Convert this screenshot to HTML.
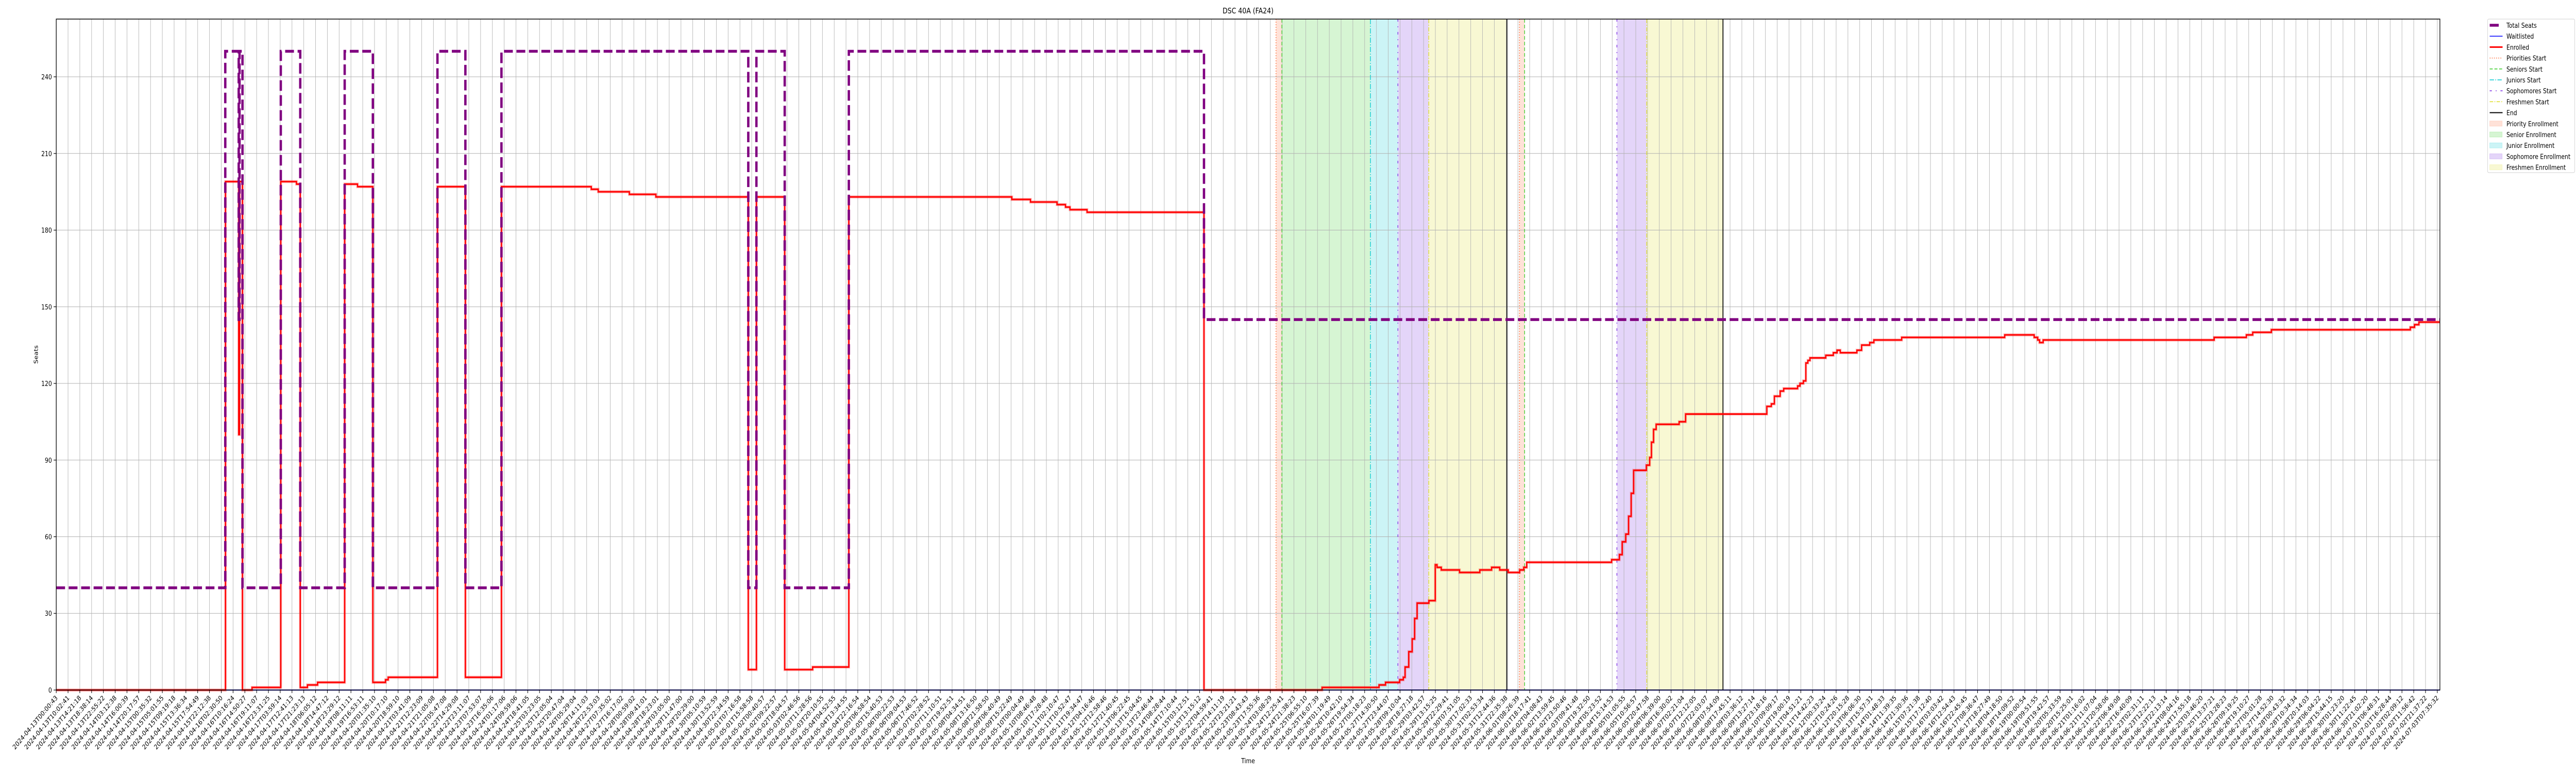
<!DOCTYPE html>
<html><head><meta charset="utf-8"><title>DSC 40A (FA24)</title>
<style>
html,body{margin:0;padding:0;background:#fff;width:100%;height:100%;overflow:hidden;}
svg{display:block;position:absolute;left:0;top:0;width:100vw;height:100vh;font-family:"DejaVu Sans","Liberation Sans",sans-serif;}
</style></head>
<body>
<svg id="chart" viewBox="0 0 6000 1500" preserveAspectRatio="none" xmlns="http://www.w3.org/2000/svg" overflow="hidden">
  <rect x="0" y="0" width="6000" height="1500" fill="#fff"/>
  <text x="2907" y="26" font-size="15" text-anchor="middle" fill="#000">DSC 40A (FA24)</text>
  <g id="spans"></g>
  <g id="grid"></g>
  <g id="vlines"></g>
  <g id="series"></g>
  <g id="axes"></g>
  <text x="2907" y="1481" font-size="13" text-anchor="middle" fill="#000">Time</text>
  <text x="0" y="0" font-size="13" text-anchor="middle" fill="#000" transform="translate(88,688) rotate(-90)">Seats</text>
  <g id="legend"></g>
</svg>
<script>
// ---- data ----
const seatsX = [0,14.34,15.48,15.55,15.80,19.05,20.70,24.47,26.86,32.34,34.71,37.77,58.71,59.40,61.80,67.24,97.37];
const seatsY = [40,250,145,250,40,250,40,250,40,250,40,250,40,250,40,250,145];
const enrolledX = [0,14.36,15.48,15.55,15.80,16.61,19.05,20.38,20.70,21.31,22.17,24.47,25.56,26.86,27.93,28.16,32.34,34.71,37.77,45.39,45.98,48.62,50.87,58.71,59.40,61.80,64.17,67.24,81.07,82.65,84.90,85.62,86.00,87.45,97.37,107.39,112.22,112.77,113.97,114.28,114.43,114.74,115.03,115.24,115.45,116.45,116.99,117.14,117.50,119.05,120.77,121.77,122.46,123.18,124.15,124.50,124.75,131.95,132.61,132.85,133.15,133.39,133.61,133.82,134.90,135.18,135.33,135.51,135.73,137.68,138.23,145.12,145.50,145.76,146.25,146.55,147.73,147.93,148.22,148.43,148.60,148.78,150.12,150.76,151.08,151.35,152.76,153.16,153.85,154.20,156.56,165.30,167.80,168.10,168.26,168.56,183.07,185.80,186.34,187.92,199.71,200.07,200.44];
const enrolledY = [0,199,100,199,0,1,199,198,1,2,3,198,197,3,4,5,197,5,197,196,195,194,193,8,193,8,9,193,192,191,190,189,188,187,0,1,2,3,4,5,9,15,20,28,34,35,49,48,47,46,47,48,47,46,47,48,50,51,53,58,61,68,77,86,88,91,97,102,104,105,108,111,112,115,117,118,119,120,121,128,129,130,131,132,133,132,133,135,136,137,138,139,138,137,136,137,138,139,140,141,142,143,144];
const waitlistX = [0];
const waitlistY = [0];
const spanStart = [103.48,103.98,111.49,113.82,116.44,124.13,132.40,134.93];
const spanEnd   = [103.98,111.49,113.82,116.44,123.07,124.57,134.93,141.40];
const spanKind  = ["priority","senior","junior","sophomore","freshmen","priority","sophomore","freshmen"];
const lineAt    = [103.48,103.98,111.49,113.82,116.44,123.07,124.13,124.57,132.40,134.93,141.40];
const lineKind  = ["priority","senior","junior","sophomore","freshmen","end","priority","senior","sophomore","freshmen","end"];
const yTicks = [0,30,60,90,120,150,180,210,240];
const tickAnchorIdx = [0,1,2,3,4,5,6,7,8,9,10,11,12,13,14,15,16,17,18,19,95,96,97,98,99,100,101,102,103,104,105,106,107,108,109,110,111,112,113,114,115,116,117,118,119,120,190,191,192,193,194,195,196,197,198,199,200,201,202];
const tickAnchorTime = ["2024-04-13T00:00:43","2024-04-13T10:02:41","2024-04-13T14:21:18","2024-04-13T18:38:14","2024-04-13T22:55:22","2024-04-14T03:12:38","2024-04-14T16:00:39","2024-04-14T20:17:57","2024-04-15T00:35:32","2024-04-15T05:01:55","2024-04-15T09:19:18","2024-04-15T13:36:34","2024-04-15T17:54:49","2024-04-15T22:12:38","2024-04-16T02:30:50","2024-04-16T10:16:24","2024-04-16T14:50:27","2024-04-16T19:11:07","2024-04-16T23:31:25","2024-04-17T03:59:14","2024-05-14T17:10:44","2024-05-15T03:12:51","2024-05-15T13:15:12","2024-05-22T04:59:41","2024-05-22T14:11:19","2024-05-22T23:21:21","2024-05-23T08:43:43","2024-05-23T17:55:36","2024-05-24T03:08:29","2024-05-24T12:25:41","2024-05-24T21:38:23","2024-05-25T06:55:10","2024-05-25T16:07:39","2024-05-26T01:19:49","2024-05-26T10:42:10","2024-05-26T19:54:34","2024-05-27T05:18:23","2024-05-27T14:30:50","2024-05-27T23:44:07","2024-05-28T09:10:04","2024-05-28T18:27:18","2024-05-29T03:42:57","2024-05-29T13:15:25","2024-05-29T22:29:41","2024-05-30T07:51:05","2024-05-30T17:02:33","2024-06-28T10:34:34","2024-06-28T20:14:03","2024-06-29T06:04:22","2024-06-29T15:44:15","2024-06-30T01:23:20","2024-06-30T11:22:45","2024-06-30T21:02:20","2024-07-01T06:48:31","2024-07-01T16:28:44","2024-07-02T02:09:12","2024-07-02T11:56:42","2024-07-02T21:37:22","2024-07-03T07:35:32"];
const tickCount = 203;

// ---- geometry ----
const L = 131, R = 5683, T = 37, B = 1339;
const X_MAX = 202.22, Y_MAX = 262.6;
const xs = k => L + k * (R - L) / X_MAX;
const ys = v => B - v * (B - T) / Y_MAX;
const NS = "http://www.w3.org/2000/svg";
function mk(tag, attrs, parent) {
  const e = document.createElementNS(NS, tag);
  for (const k in attrs) e.setAttribute(k, attrs[k]);
  parent.appendChild(e);
  return e;
}
const colors = {priority:"#ff6f3c", senior:"#33cc22", junior:"#00c8d0", sophomore:"#7a2be2", freshmen:"#dddd22", end:"#000000"};
const dashes = {priority:"2 3", senior:"7 4", junior:"10 3 2 3", sophomore:"5 9 2 9", freshmen:"8 3 2 3", end:""};

// spans
const gS = document.getElementById("spans");
spanStart.forEach((s, i) => {
  const r = mk("rect", {x: xs(s), y: T, width: xs(spanEnd[i]) - xs(s), height: B - T, fill: colors[spanKind[i]], "fill-opacity": 0.2}, gS);
  
  
});

// grid
const gG = document.getElementById("grid");
for (let k = 0; k < tickCount; k++) {
  const l = mk("line", {x1: xs(k), x2: xs(k), y1: T, y2: B, stroke: "#b0b0b0", "stroke-width": 1}, gG);
  
  
}
yTicks.forEach(v => {
  const l = mk("line", {x1: L, x2: R, y1: ys(v), y2: ys(v), stroke: "#b0b0b0", "stroke-width": 1}, gG);
  
  
});

// event lines
const gV = document.getElementById("vlines");
lineAt.forEach((k, i) => {
  const kind = lineKind[i];
  const a = {x1: xs(k), x2: xs(k), y1: T, y2: B, stroke: colors[kind], "stroke-width": kind === "end" ? 2 : 1.5};
  if (dashes[kind]) a["stroke-dasharray"] = dashes[kind];
  const l = mk("line", a, gV);
  
  
});

// series
function stepPath(X, Y) {
  let d = "M" + xs(X[0]) + " " + ys(Y[0]);
  for (let i = 1; i < X.length; i++) d += " H" + xs(X[i]) + " V" + ys(Y[i]);
  d += " H" + xs(X_MAX);
  return d;
}
const gSe = document.getElementById("series");
const wl = mk("path", {d: stepPath(waitlistX, waitlistY), fill: "none", stroke: "#0000ff", "stroke-width": 2}, gSe);


const halo = mk("path", {d: stepPath(enrolledX, enrolledY), fill: "none", stroke: "#ff0000", "stroke-opacity": 0.25, "stroke-width": 6}, gSe);


const en = mk("path", {d: stepPath(enrolledX, enrolledY), fill: "none", stroke: "#ff0000", "stroke-width": 3}, gSe);


const st = mk("path", {d: stepPath(seatsX, seatsY), fill: "none", stroke: "#800080", "stroke-width": 5.5, "stroke-dasharray": "20.5 8.5"}, gSe);



// axes
const gA = document.getElementById("axes");
const frame = mk("rect", {x: L, y: T, width: R - L, height: B - T, fill: "none", stroke: "#000", "stroke-width": 1.5}, gA);


yTicks.forEach(v => {
  const tk = mk("line", {x1: L - 6, x2: L, y1: ys(v), y2: ys(v), stroke: "#000", "stroke-width": 1.2}, gA);
  
  
  const t = mk("text", {x: L - 10, y: ys(v) + 5, "font-size": 13, "text-anchor": "end", fill: "#000"}, gA);
  t.textContent = String(v);
  
  
});
function pad(n){return String(n).padStart(2,"0");}
function fmt(ms){const d=new Date(ms);return d.getUTCFullYear()+"-"+pad(d.getUTCMonth()+1)+"-"+pad(d.getUTCDate())+"T"+pad(d.getUTCHours())+":"+pad(d.getUTCMinutes())+":"+pad(d.getUTCSeconds());}
const anchorMs = tickAnchorTime.map(s => Date.parse(s + "Z"));
for (let k = 0; k < tickCount; k++) {
  let ms;
  const j = tickAnchorIdx.indexOf(k);
  if (j >= 0) ms = anchorMs[j];
  else {
    let a = 0; while (tickAnchorIdx[a + 1] < k) a++;
    const f = (k - tickAnchorIdx[a]) / (tickAnchorIdx[a + 1] - tickAnchorIdx[a]);
    ms = anchorMs[a] + f * (anchorMs[a + 1] - anchorMs[a]);
  }
  const x = xs(k);
  const tk = mk("line", {x1: x, x2: x, y1: B, y2: B + 6, stroke: "#000", "stroke-width": 1.2}, gA);
  
  
  const t = mk("text", {x: x + 4, y: B + 16, "font-size": 13, "text-anchor": "end", fill: "#000", transform: "rotate(-45 " + (x + 4) + " " + (B + 16) + ")"}, gA);
  t.textContent = fmt(ms);
  
  
}

// legend
const gL = document.getElementById("legend");
const box = mk("rect", {x: 5794, y: 37, width: 203, height: 298, rx: 3, fill: "#fff", "fill-opacity": 0.8, stroke: "#d0d0d0", "stroke-width": 1}, gL);


const legendLabels = ["Total Seats","Waitlisted","Enrolled","Priorities Start","Seniors Start","Juniors Start","Sophomores Start","Freshmen Start","End","Priority Enrollment","Senior Enrollment","Junior Enrollment","Sophomore Enrollment","Freshmen Enrollment"];
const legendKinds = ["seats","wait","enr","priority","senior","junior","sophomore","freshmen","end","priority","senior","junior","sophomore","freshmen"];
legendLabels.forEach((lab, i) => {
  const y = 49 + i * 21.2;
  const g = mk("g", {}, gL);
  
  
  const kind = legendKinds[i];
  if (i >= 9) {
    mk("rect", {x: 5799, y: y - 5, width: 29, height: 10, fill: colors[kind], "fill-opacity": 0.2, stroke: colors[kind], "stroke-opacity": 0.2}, g);
  } else if (kind === "seats") {
    mk("line", {x1: 5799, x2: 5820, y1: y, y2: y, stroke: "#800080", "stroke-width": 5.5}, g);
  } else if (kind === "wait") {
    mk("line", {x1: 5799, x2: 5829, y1: y, y2: y, stroke: "#0000ff", "stroke-width": 1.5}, g);
  } else if (kind === "enr") {
    mk("line", {x1: 5799, x2: 5829, y1: y, y2: y, stroke: "#ff0000", "stroke-width": 3}, g);
  } else {
    const a = {x1: 5799, x2: 5829, y1: y, y2: y, stroke: colors[kind], "stroke-width": kind === "end" ? 2 : 1.5};
    if (dashes[kind]) a["stroke-dasharray"] = dashes[kind];
    mk("line", a, g);
  }
  const t = mk("text", {x: 5838, y: y + 5, "font-size": 13, fill: "#000"}, g);
  t.textContent = lab;
});
</script>
</body></html>
